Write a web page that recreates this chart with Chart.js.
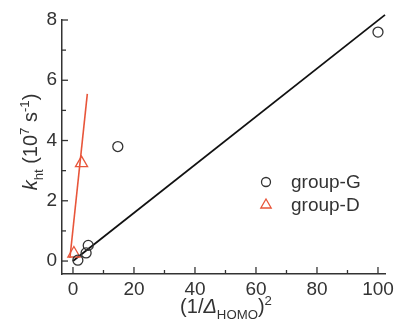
<!DOCTYPE html>
<html>
<head>
<meta charset="utf-8">
<script src="https://cdn.jsdelivr.net/npm/chart.js@4/dist/chart.umd.min.js"></script>
<style>
  body { margin: 0; background: #fff; }
  canvas { display: block; }
</style>
</head>
<body>
<canvas id="c" width="397" height="322"></canvas>
<script>
// data
const groupG_x = [1.6, 4.3, 5.0, 14.7, 100];
const groupG_y = [0.03, 0.27, 0.52, 3.8, 7.6];
const groupD_x = [0.3, 2.8];
const groupD_y = [0.25, 3.25];
// fitted lines (end points)
const fitG_x = [0, 102.3];
const fitG_y = [0, 8.17];
const fitD_x = [-1.0, 4.7];
const fitD_y = [0.1, 5.55];

const xTicks = [0, 20, 40, 60, 80, 100];
const xMinor = [10, 30, 50, 70, 90];
const yTicks = [0, 2, 4, 6, 8];
const yMinor = [1, 3, 5, 7];

const legendLabels = ['group-G', 'group-D'];

const ink = '#333';
const red = '#e8553a';
const FONT = '"Liberation Sans", Arial, sans-serif';

function pts(xs, ys) { return xs.map((x, i) => ({x: x, y: ys[i]})); }

// rich text with sub / superscripts
function drawRich(ctx, segs, x, y, size, rot) {
  ctx.save();
  ctx.translate(x, y);
  ctx.rotate(rot);
  ctx.textBaseline = 'alphabetic';
  ctx.textAlign = 'left';
  let total = 0;
  const fonts = segs.map(s => {
    const sz = s.sub || s.sup ? size * 0.66 : size;
    const f = (s.italic ? 'italic ' : '') + sz + 'px ' + FONT;
    ctx.font = f;
    const w = ctx.measureText(s.t).width;
    total += w;
    return {f, w};
  });
  let cx = -total / 2;
  segs.forEach((s, i) => {
    ctx.font = fonts[i].f;
    let dy = 0;
    if (s.sub) dy = size * 0.28;
    if (s.sup) dy = -size * 0.42;
    ctx.fillStyle = ink;
    ctx.fillText(s.t, cx, dy);
    cx += fonts[i].w;
  });
  ctx.restore();
}

const decor = {
  id: 'decor',
  afterDraw(chart) {
    const ctx = chart.ctx;
    const xs = chart.scales.x, ys = chart.scales.y;
    const area = chart.chartArea;
    ctx.save();
    ctx.strokeStyle = ink;
    ctx.lineWidth = 1.3;
    // inward ticks
    const tick = (v, len, isX) => {
      ctx.beginPath();
      if (isX) {
        const p = xs.getPixelForValue(v);
        ctx.moveTo(p, area.bottom); ctx.lineTo(p, area.bottom - len);
      } else {
        const p = ys.getPixelForValue(v);
        ctx.moveTo(area.left, p); ctx.lineTo(area.left + len, p);
      }
      ctx.stroke();
    };
    xTicks.forEach(v => tick(v, 7, true));
    xMinor.forEach(v => tick(v, 4, true));
    yTicks.forEach(v => tick(v, 6, false));
    yMinor.forEach(v => tick(v, 4, false));
    ctx.restore();

    // axis titles
    drawRich(ctx, [
      {t: 'k', italic: true}, {t: 'ht', sub: true}, {t: ' (10'}, {t: '7', sup: true},
      {t: ' s'}, {t: '-1', sup: true}, {t: ')'}
    ], 37, 142, 20, -Math.PI / 2);
    drawRich(ctx, [
      {t: '(1/'}, {t: 'Δ', italic: true}, {t: 'HOMO', sub: true}, {t: ')'}, {t: '2', sup: true}
    ], 226, 313, 20, 0);

    // legend
    const ds = [chart.data.datasets[0], chart.data.datasets[1]];
    ds.forEach((d, i) => {
      const y = 182 + i * 23;
      ctx.save();
      ctx.strokeStyle = d.borderColor;
      ctx.fillStyle = 'rgba(0,0,0,0)';
      ctx.lineWidth = 1.3;
      Chart.helpers.drawPoint(ctx, {
        pointStyle: d.pointStyle, radius: d.pointStyle === 'triangle' ? 6 : 4.5,
        rotation: 0, borderWidth: 1.3
      }, 266, y);
      ctx.restore();
      ctx.save();
      ctx.fillStyle = ink;
      ctx.font = '19px ' + FONT;
      ctx.textBaseline = 'middle';
      ctx.fillText(legendLabels[i], 291, y + 1);
      ctx.restore();
    });
  }
};

new Chart(document.getElementById('c'), {
  type: 'scatter',
  data: {
    datasets: [
      {
        label: legendLabels[0], data: pts(groupG_x, groupG_y),
        pointStyle: 'circle', pointRadius: 5, pointBorderWidth: 1.3,
        borderColor: ink, backgroundColor: 'rgba(0,0,0,0)'
      },
      {
        label: legendLabels[1], data: pts(groupD_x, groupD_y),
        pointStyle: 'triangle', pointRadius: 7, pointBorderWidth: 1.3,
        borderColor: red, backgroundColor: 'rgba(0,0,0,0)'
      },
      {
        type: 'line', data: pts(fitG_x, fitG_y), showLine: true, pointRadius: 0,
        borderColor: '#111', borderWidth: 1.8, clip: false
      },
      {
        type: 'line', data: pts(fitD_x, fitD_y), showLine: true, pointRadius: 0,
        borderColor: red, borderWidth: 1.6, clip: false
      }
    ]
  },
  options: {
    responsive: false,
    animation: false,
    events: [],
    layout: { padding: { top: 20, right: 12, left: 0, bottom: 0 } },
    plugins: { legend: { display: false }, tooltip: { enabled: false } },
    scales: {
      x: {
        type: 'linear', min: -3.6, max: 102.3,
        afterBuildTicks: s => { s.ticks = xTicks.map(v => ({value: v})); },
        afterFit: s => { s.height = 48; s.paddingLeft = 0; s.paddingRight = 0; },
        grid: { display: false, drawTicks: false },
        border: { display: true, color: ink, width: 1.5 },
        ticks: { color: ink, font: { family: FONT, size: 19 }, padding: 4, maxRotation: 0 }
      },
      y: {
        type: 'linear', min: -0.43, max: 8,
        afterBuildTicks: s => { s.ticks = yTicks.map(v => ({value: v})); },
        afterFit: s => { s.width = 62; s.paddingTop = 0; s.paddingBottom = 0; },
        grid: { display: false, drawTicks: false },
        border: { display: true, color: ink, width: 1.5 },
        ticks: { color: ink, font: { family: FONT, size: 19 }, padding: 5 }
      }
    }
  },
  plugins: [decor]
});
</script>
</body>
</html>
